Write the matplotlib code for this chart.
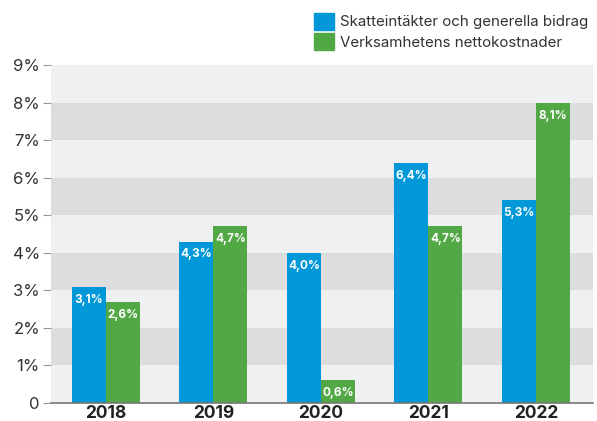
import numpy as np
import matplotlib.pyplot as plt
from matplotlib.patches import Patch

# data
years = ["2018", "2019", "2020", "2021", "2022"]
skatt = [3.1, 4.3, 4.0, 6.4, 5.4]
netto = [2.7, 4.7, 0.6, 4.7, 8.0]
skatt_labels = ["3,1%", "4,3%", "4,0%", "6,4%", "5,3%"]
netto_labels = ["2,6%", "4,7%", "0,6%", "4,7%", "8,1%"]
yticks = [0, 1, 2, 3, 4, 5, 6, 7, 8, 9]
ytick_labels = ["0", "1%", "2%", "3%", "4%", "5%", "6%", "7%", "8%", "9%"]

BLUE = "#0098d8"
GREEN = "#52a845"
LIGHT = "#eff0f2"
DARK = "#dcdddf"

plt.rcParams['font.family'] = ['Inter', 'DejaVu Sans']

fig = plt.figure(figsize=(5.97, 4.21), dpi=100)
ax = fig.add_axes([51/597, 1 - 403/421, (593-51)/597, (403-65)/421])
ax.set_facecolor(LIGHT)

# alternating bands
for lo in range(1, 9, 2):
    ax.axhspan(lo, lo + 1, color=DARK, lw=0, zorder=0)

x = np.arange(len(years))
w = 0.316
b1 = ax.bar(x - w/2, skatt, w, color=BLUE, zorder=2)
b2 = ax.bar(x + w/2, netto, w, color=GREEN, zorder=2)

for bars, labs in ((b1, skatt_labels), (b2, netto_labels)):
    for r, lab in zip(bars, labs):
        ax.annotate(lab, (r.get_x() + r.get_width()/2, r.get_height()),
                    xytext=(0, -5), textcoords="offset points",
                    ha="center", va="top", color="white",
                    fontsize=8.5, fontweight="bold", zorder=3)

ax.set_xlim(-0.51, 4.53)
ax.set_ylim(0, 9)
ax.set_yticks(yticks)
ax.set_yticklabels(ytick_labels, fontsize=12, color="#333333")
ax.set_xticks(x)
ax.set_xticklabels(years, fontsize=12.5, fontweight="bold", color="#222222")
ax.tick_params(axis="y", length=6, color="#999999", pad=2)
ax.tick_params(axis="x", length=0, pad=1.5)
for s in ("top", "right", "left"):
    ax.spines[s].set_visible(False)
ax.spines["bottom"].set_color("#777777")
ax.spines["bottom"].set_linewidth(1.2)
ax.spines["bottom"].set_zorder(4)

handles = [Patch(color=BLUE), Patch(color=GREEN)]
fig.legend(handles, ["Skatteintäkter och generella bidrag",
                     "Verksamhetens nettokostnader"],
           loc="upper right", bbox_to_anchor=(594/597, 1 - 7/421),
           frameon=False, fontsize=10.9, handlelength=1.3, handleheight=1.3,
           handletextpad=0.4, labelspacing=0.25, borderaxespad=0,
           labelcolor="#333333")

fig.savefig("out.png", dpi=100)
